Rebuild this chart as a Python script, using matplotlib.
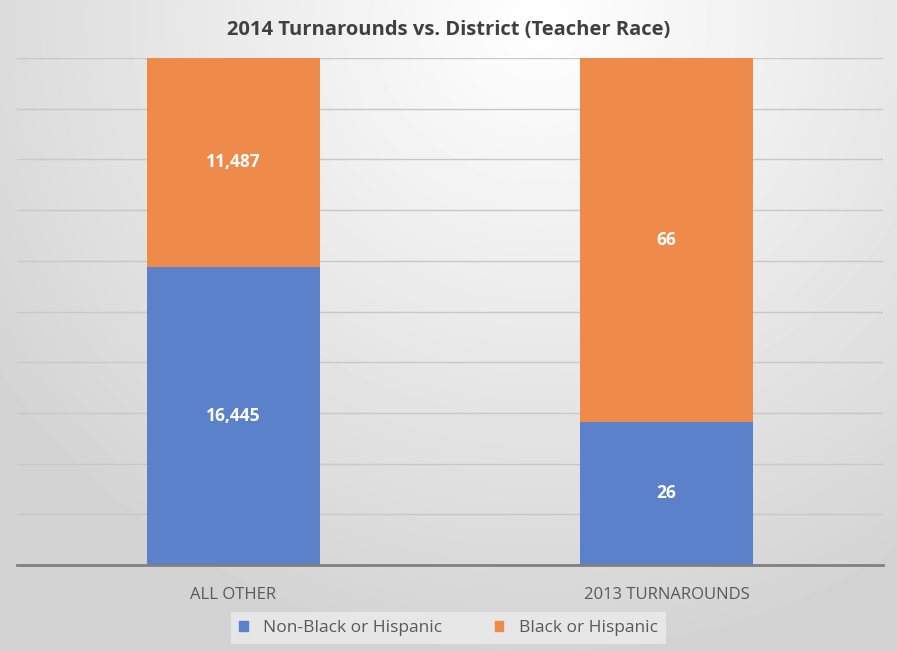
import numpy as np
import matplotlib
matplotlib.use("Agg")
import matplotlib.pyplot as plt
from matplotlib.patches import Patch

plt.rcParams["font.family"] = ["Open Sans", "DejaVu Sans"]

categories = ["ALL OTHER", "2013 TURNAROUNDS"]
non_black_hispanic = [16445, 26]
black_hispanic = [11487, 66]
series_names = ["Non-Black or Hispanic", "Black or Hispanic"]

blue = "#5A81CA"
orange = "#EE8A4A"

fig = plt.figure(figsize=(8.97, 6.51), dpi=100)

# soft radial backdrop, light near the top middle and greyer at the edges
bg = fig.add_axes([0, 0, 1, 1], zorder=-10)
yy, xx = np.mgrid[0:651, 0:897]
dist = np.sqrt(((xx - 540) / 620.0) ** 2 + ((yy - 20) / 600.0) ** 2)
shade = np.clip(1.0 - 0.16 * dist, 0.83, 1.0)
bg.imshow(shade, cmap="gray", vmin=0, vmax=1, aspect="auto", interpolation="bilinear")
bg.axis("off")

ax = fig.add_axes([17 / 897, 1 - 565 / 651, 866 / 897, 507 / 651])
ax.patch.set_alpha(0)

totals = np.array(non_black_hispanic) + np.array(black_hispanic)
low = np.array(non_black_hispanic) / totals
high = np.array(black_hispanic) / totals
x = np.arange(len(categories))

b1 = ax.bar(x, low, width=0.4, color=blue, zorder=3)
b2 = ax.bar(x, high, width=0.4, bottom=low, color=orange, zorder=3)

for bars, vals in ((b1, non_black_hispanic), (b2, black_hispanic)):
    for rect, v in zip(bars, vals):
        cx = rect.get_x() + rect.get_width() / 2
        cy = rect.get_y() + rect.get_height() / 2
        ax.text(cx, cy, f"{v:,}", ha="center", va="center", color="white",
                fontsize=12.5, fontweight="bold", zorder=4)

ax.set_xlim(-0.5, 1.5)
ax.set_ylim(0, 1)
ax.set_yticks(np.arange(0.1, 1.01, 0.1))
ax.yaxis.grid(True, color="#c8c8c8", linewidth=1, zorder=0)
ax.tick_params(axis="y", left=False, labelleft=False)
ax.tick_params(axis="x", bottom=False, labelsize=12, labelcolor="#595959", pad=12)
ax.set_xticks(x)
ax.set_xticklabels(categories)
for side in ("top", "right", "left"):
    ax.spines[side].set_visible(False)
ax.spines["bottom"].set_color("#808080")
ax.spines["bottom"].set_linewidth(2)
ax.spines["bottom"].set_zorder(5)

fig.text(0.5, 1 - 30 / 651, "2014 Turnarounds vs. District (Teacher Race)",
         ha="center", va="center", fontsize=14.5, fontweight="bold", color="#404040")

handles = [Patch(color=blue), Patch(color=orange)]
leg = fig.legend(handles, series_names, loc="center", bbox_to_anchor=(0.5, 1 - 628 / 651),
                 ncol=2, frameon=True, fontsize=12.5, handlelength=0.5, handleheight=0.5,
                 columnspacing=3.0, handletextpad=0.9, borderpad=0.45, borderaxespad=0,
                 fancybox=False)
leg.get_frame().set_facecolor("#ececec")
leg.get_frame().set_edgecolor("none")
for t in leg.get_texts():
    t.set_color("#595959")

fig.savefig("out.png", dpi=100)
